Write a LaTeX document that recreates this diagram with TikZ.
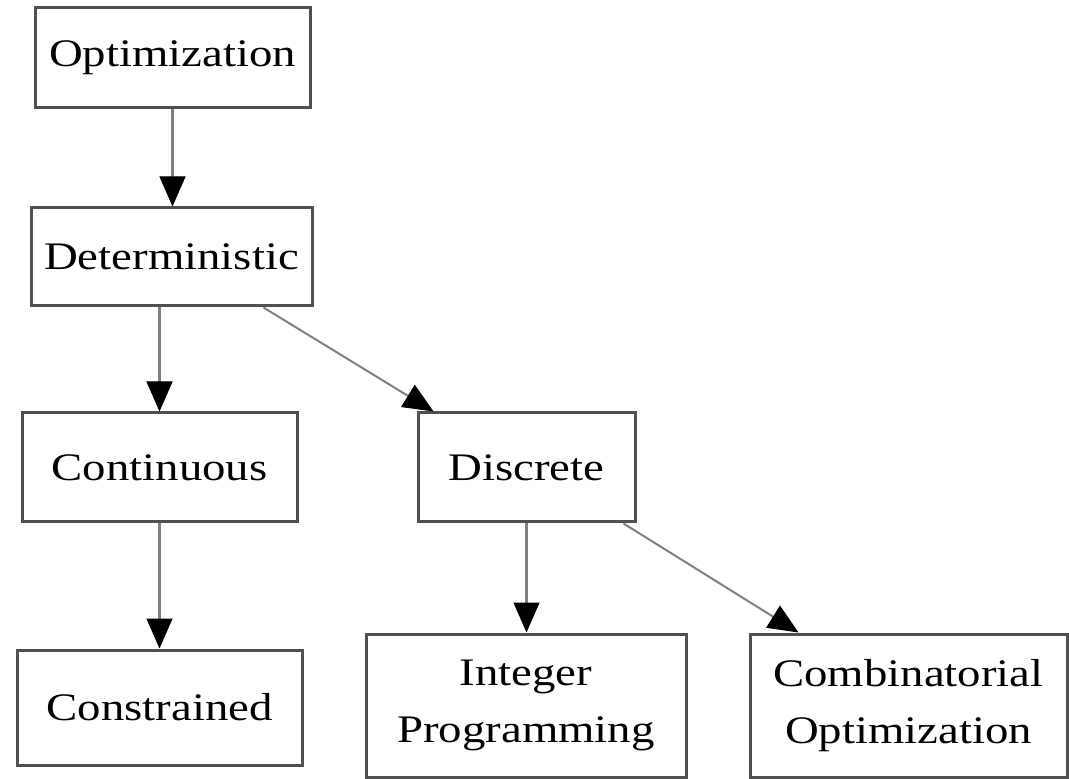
\documentclass[tikz,border=0pt]{standalone}
\usepackage{fontspec}
\setmainfont{Liberation Serif}[FakeStretch=1.2]
\usetikzlibrary{arrows.meta}
\definecolor{boxline}{HTML}{505050}
\definecolor{arrline}{HTML}{808080}
\begin{document}
\begin{tikzpicture}[x=0.5pt,y=-0.5pt,
  box/.style={draw=boxline, line width=1.5pt, fill=white, inner sep=0pt,
    align=center, font=\fontsize{19.5}{28.5}\selectfont},
  conn/.style={draw=arrline, line width=1.5pt,
    arrows={-{Triangle[length=15pt,width=13pt,color=black,fill=black,line width=0.5pt]}}},
  diag/.style={conn, line width=1pt}]
\useasboundingbox (0,0) rectangle (1069,779);
\fill[white] (0,0) rectangle (1069,779);
\node[box, minimum width=137.5pt, minimum height=50pt] (opt) at (172.5,58) {Optimization};
\node[box, minimum width=140.5pt, minimum height=49pt] (det) at (171.5,257) {Deterministic};
\node[box, minimum width=137.5pt, minimum height=54.5pt] (cont) at (159.5,467.5) {Continuous};
\node[box, minimum width=108.5pt, minimum height=54.5pt] (disc) at (526.5,467.5) {Discrete};
\node[box, minimum width=142.5pt, minimum height=57.5pt] (cons) at (159.5,707.5) {Constrained};
\node[box, minimum width=160pt, minimum height=71.5pt] (intp) at (526,705.5) {Integer\\Programming};
\node[box, minimum width=158.5pt, minimum height=71.5pt] (comb) at (908.5,705.5) {Combinatorial\\Optimization};
\draw[conn] (opt.south) -- (opt.south |- det.north);
\draw[conn] (cont.north |- det.south) -- (cont.north);
\draw[diag] ([xshift=-25pt]det.south east) -- ([xshift=8.5pt]disc.north west);
\draw[conn] (cont.south) -- (cont.south |- cons.north);
\draw[conn] (disc.south) -- (disc.south |- intp.north);
\draw[diag] ([xshift=-6.5pt]disc.south east) -- ([xshift=25pt]comb.north west);
\end{tikzpicture}
\end{document}
